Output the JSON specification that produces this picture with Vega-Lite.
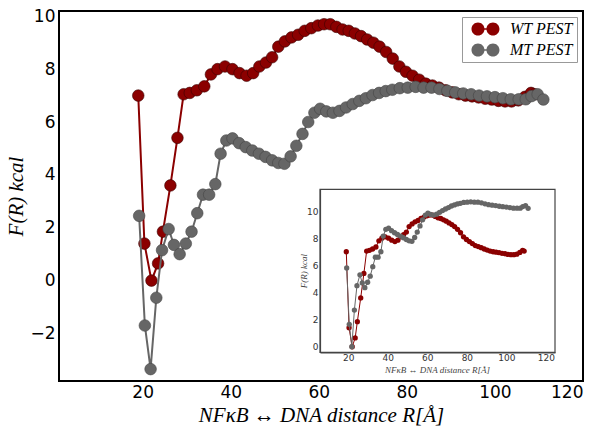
{
  "$schema": "https://vega.github.io/schema/vega-lite/v6.json",
  "width": 524,
  "height": 370,
  "autosize": {"type": "none"},
  "padding": {"left": 59, "top": 11, "right": 21, "bottom": 54},
  "background": "white",
  "config": {
    "view": {"stroke": "black", "strokeWidth": 2},
    "axis": {"grid": false, "ticks": false, "domain": false, "labelFont": "DejaVu Sans", "labelColor": "black", "titleFont": "Liberation Serif", "titleFontStyle": "italic", "titleFontWeight": "normal", "titleColor": "black"}
  },
  "datasets": {
    "wt": [
      {"R": 19.0, "F": 7.0}, {"R": 20.4, "F": 1.4}, {"R": 22.0, "F": 0.0}, {"R": 23.5, "F": 0.65}, {"R": 24.6, "F": 1.85},
      {"R": 26.3, "F": 3.6}, {"R": 27.9, "F": 5.4}, {"R": 29.3, "F": 7.05}, {"R": 30.7, "F": 7.1}, {"R": 32.3, "F": 7.2},
      {"R": 34.0, "F": 7.35}, {"R": 35.5, "F": 7.8}, {"R": 37.0, "F": 8.0}, {"R": 38.7, "F": 8.1}, {"R": 40.4, "F": 8.0},
      {"R": 42.0, "F": 7.85}, {"R": 43.6, "F": 7.75}, {"R": 45.1, "F": 7.85}, {"R": 46.5, "F": 8.1}, {"R": 48.0, "F": 8.25},
      {"R": 49.4, "F": 8.45}, {"R": 50.8, "F": 8.85}, {"R": 52.3, "F": 9.05}, {"R": 53.8, "F": 9.2}, {"R": 55.3, "F": 9.3},
      {"R": 56.8, "F": 9.45}, {"R": 58.3, "F": 9.55}, {"R": 59.8, "F": 9.65}, {"R": 61.2, "F": 9.7}, {"R": 62.6, "F": 9.7},
      {"R": 64.0, "F": 9.6}, {"R": 65.4, "F": 9.5}, {"R": 66.8, "F": 9.45}, {"R": 68.2, "F": 9.35}, {"R": 69.6, "F": 9.25},
      {"R": 71.0, "F": 9.12}, {"R": 72.4, "F": 9.0}, {"R": 73.8, "F": 8.85}, {"R": 75.3, "F": 8.65}, {"R": 76.8, "F": 8.4},
      {"R": 78.3, "F": 8.1}, {"R": 79.8, "F": 7.9}, {"R": 81.3, "F": 7.75}, {"R": 82.8, "F": 7.6}, {"R": 84.3, "F": 7.45},
      {"R": 85.8, "F": 7.38}, {"R": 87.3, "F": 7.3}, {"R": 88.8, "F": 7.2}, {"R": 90.3, "F": 7.12}, {"R": 91.8, "F": 7.05},
      {"R": 93.3, "F": 7.0}, {"R": 94.8, "F": 6.97}, {"R": 96.3, "F": 6.93}, {"R": 97.8, "F": 6.88}, {"R": 99.3, "F": 6.85},
      {"R": 100.8, "F": 6.8}, {"R": 102.3, "F": 6.78}, {"R": 103.8, "F": 6.78}, {"R": 105.3, "F": 6.82}, {"R": 106.8, "F": 6.95},
      {"R": 108.2, "F": 7.1}, {"R": 109.0, "F": 7.05}
    ],
    "mt": [
      {"R": 19.2, "F": 2.45}, {"R": 20.5, "F": -1.7}, {"R": 21.8, "F": -3.35}, {"R": 23.1, "F": -0.65}, {"R": 24.4, "F": 1.15},
      {"R": 25.9, "F": 1.95}, {"R": 27.1, "F": 1.35}, {"R": 28.4, "F": 1.0}, {"R": 29.8, "F": 1.4}, {"R": 31.1, "F": 1.85},
      {"R": 32.4, "F": 2.55}, {"R": 33.7, "F": 3.25}, {"R": 35.1, "F": 3.25}, {"R": 36.5, "F": 3.65}, {"R": 37.7, "F": 4.8},
      {"R": 39.0, "F": 5.3}, {"R": 40.4, "F": 5.38}, {"R": 41.9, "F": 5.2}, {"R": 43.4, "F": 5.05}, {"R": 44.9, "F": 4.92},
      {"R": 46.4, "F": 4.8}, {"R": 47.9, "F": 4.68}, {"R": 49.4, "F": 4.55}, {"R": 50.8, "F": 4.45}, {"R": 52.2, "F": 4.42},
      {"R": 53.6, "F": 4.7}, {"R": 54.9, "F": 5.1}, {"R": 56.3, "F": 5.55}, {"R": 57.6, "F": 6.0}, {"R": 59.0, "F": 6.35},
      {"R": 60.3, "F": 6.5}, {"R": 61.7, "F": 6.4}, {"R": 63.2, "F": 6.35}, {"R": 64.7, "F": 6.42}, {"R": 66.2, "F": 6.55},
      {"R": 67.7, "F": 6.68}, {"R": 69.2, "F": 6.8}, {"R": 70.7, "F": 6.9}, {"R": 72.2, "F": 7.02}, {"R": 73.7, "F": 7.1},
      {"R": 75.2, "F": 7.17}, {"R": 76.7, "F": 7.22}, {"R": 78.4, "F": 7.28}, {"R": 80.2, "F": 7.3}, {"R": 82.0, "F": 7.33},
      {"R": 83.8, "F": 7.3}, {"R": 85.6, "F": 7.3}, {"R": 87.4, "F": 7.25}, {"R": 89.2, "F": 7.18}, {"R": 91.0, "F": 7.12},
      {"R": 92.8, "F": 7.08}, {"R": 94.6, "F": 7.05}, {"R": 96.4, "F": 7.0}, {"R": 98.2, "F": 6.97}, {"R": 100.0, "F": 6.94},
      {"R": 101.8, "F": 6.9}, {"R": 103.6, "F": 6.86}, {"R": 105.4, "F": 6.86}, {"R": 107.0, "F": 6.86}, {"R": 108.3, "F": 6.98},
      {"R": 109.7, "F": 7.05}, {"R": 111.0, "F": 6.85}
    ],
    "mtInset": [
      {"R": 19.2, "F": 5.8}, {"R": 20.5, "F": 1.65}, {"R": 21.8, "F": 0.0}, {"R": 23.1, "F": 2.7}, {"R": 24.4, "F": 4.5},
      {"R": 25.9, "F": 5.3}, {"R": 27.1, "F": 4.7}, {"R": 28.4, "F": 4.35}, {"R": 29.8, "F": 4.75}, {"R": 31.1, "F": 5.2},
      {"R": 32.4, "F": 5.9}, {"R": 33.7, "F": 6.6}, {"R": 35.1, "F": 6.6}, {"R": 36.5, "F": 7.0}, {"R": 37.7, "F": 8.15},
      {"R": 39.0, "F": 8.65}, {"R": 40.4, "F": 8.73}, {"R": 41.9, "F": 8.55}, {"R": 43.4, "F": 8.4}, {"R": 44.9, "F": 8.27},
      {"R": 46.4, "F": 8.15}, {"R": 47.9, "F": 8.03}, {"R": 49.4, "F": 7.9}, {"R": 50.8, "F": 7.8}, {"R": 52.2, "F": 7.77},
      {"R": 53.6, "F": 8.05}, {"R": 54.9, "F": 8.45}, {"R": 56.3, "F": 8.9}, {"R": 57.6, "F": 9.35}, {"R": 59.0, "F": 9.7},
      {"R": 60.3, "F": 9.85}, {"R": 61.7, "F": 9.75}, {"R": 63.2, "F": 9.7}, {"R": 64.7, "F": 9.77}, {"R": 66.2, "F": 9.9},
      {"R": 67.7, "F": 10.03}, {"R": 69.2, "F": 10.15}, {"R": 70.7, "F": 10.25}, {"R": 72.2, "F": 10.37}, {"R": 73.7, "F": 10.45},
      {"R": 75.2, "F": 10.52}, {"R": 76.7, "F": 10.57}, {"R": 78.4, "F": 10.63}, {"R": 80.2, "F": 10.65}, {"R": 82.0, "F": 10.68},
      {"R": 83.8, "F": 10.65}, {"R": 85.6, "F": 10.65}, {"R": 87.4, "F": 10.6}, {"R": 89.2, "F": 10.53}, {"R": 91.0, "F": 10.47},
      {"R": 92.8, "F": 10.43}, {"R": 94.6, "F": 10.4}, {"R": 96.4, "F": 10.35}, {"R": 98.2, "F": 10.32}, {"R": 100.0, "F": 10.29},
      {"R": 101.8, "F": 10.25}, {"R": 103.6, "F": 10.21}, {"R": 105.4, "F": 10.21}, {"R": 107.0, "F": 10.21}, {"R": 108.3, "F": 10.33},
      {"R": 109.7, "F": 10.4}, {"R": 111.0, "F": 10.2}
    ]
  },
  "layer": [
    {
      "encoding": {
        "x": {"field": "R", "type": "quantitative", "scale": {"domain": [1, 120], "nice": false, "zero": false},
              "axis": {"orient": "bottom", "values": [20, 40, 60, 80, 100, 120], "labelFontSize": 17, "labelPadding": 3,
                       "title": "NFκB  ↔  DNA distance R[Å]", "titleFontSize": 21, "titleX": 262, "titleY": 34, "titleBaseline": "middle", "titleAlign": "center"}},
        "y": {"field": "F", "type": "quantitative", "scale": {"domain": [-3.8, 10.2], "nice": false, "zero": false},
              "axis": {"orient": "left", "values": [-2, 0, 2, 4, 6, 8, 10], "labelFontSize": 17, "labelPadding": 4,
                       "title": "F(R) kcal", "titleFontSize": 21, "titleX": -43, "titleY": 185, "titleBaseline": "middle", "titleAlign": "center"}}
      },
      "layer": [
        {"data": {"name": "wt"}, "mark": {"type": "line", "strokeWidth": 2},
         "encoding": {"color": {"datum": "WT PEST", "type": "nominal",
           "scale": {"domain": ["WT PEST", "MT PEST"], "range": ["#8b0000", "#666666"]},
           "legend": {"orient": "none", "legendX": 403, "legendY": 6, "title": null, "padding": 4, "rowPadding": 5,
                      "labelFont": "Liberation Serif", "labelFontStyle": "italic", "labelFontSize": 16, "labelColor": "black",
                      "symbolType": "M-0.36,0A0.93,0.93,0,1,0,1.5,0A0.93,0.93,0,1,0,-0.36,0ZM1.78,0A0.93,0.93,0,1,0,3.64,0A0.93,0.93,0,1,0,1.78,0ZM0.57,-0.12V0.12H2.71V-0.12Z",
                      "symbolSize": 196, "symbolStrokeWidth": 0, "labelOffset": 28,
                      "strokeColor": "#999999", "fillColor": "white"}}}},
        {"data": {"name": "wt"}, "mark": {"type": "point", "filled": true, "size": 135, "opacity": 1, "stroke": "#3a0000", "strokeWidth": 0.6},
         "encoding": {"color": {"datum": "WT PEST", "type": "nominal"}}},
        {"data": {"name": "mt"}, "mark": {"type": "line", "strokeWidth": 2},
         "encoding": {"color": {"datum": "MT PEST", "type": "nominal"}}},
        {"data": {"name": "mt"}, "mark": {"type": "point", "filled": true, "size": 135, "opacity": 1, "stroke": "#444444", "strokeWidth": 0.6},
         "encoding": {"color": {"datum": "MT PEST", "type": "nominal"}}}
      ]
    },
    {
      "encoding": {
        "x": {"field": "R", "type": "quantitative", "scale": {"domain": [5.7, 124.6], "range": [261, 496], "nice": false, "zero": false},
              "axis": {"orient": "bottom", "offset": -28.7, "domain": true, "domainColor": "#444444", "domainWidth": 1.2, "values": [20, 40, 60, 80, 100, 120], "labelFontSize": 9, "labelColor": "#333333", "labelPadding": 1,
                       "title": "NFκB ↔ DNA distance R[Å]", "titleFontSize": 9, "titleColor": "#444444", "titleX": 378, "titleY": 17, "titleBaseline": "middle", "titleAlign": "center"}},
        "y": {"field": "F", "type": "quantitative", "scale": {"domain": [-0.41, 11.6], "range": [341.3, 178.3], "nice": false, "zero": false},
              "axis": {"orient": "left", "offset": -261, "domain": true, "domainColor": "#444444", "domainWidth": 1.2, "values": [0, 2, 4, 6, 8, 10], "labelFontSize": 9, "labelColor": "#333333", "labelPadding": 2,
                       "title": "F(R) kcal", "titleFontSize": 9, "titleColor": "#444444", "titleX": -17, "titleY": 259.6, "titleBaseline": "middle", "titleAlign": "center"}}
      },
      "layer": [
        {"data": {"name": "wt"}, "mark": {"type": "line", "strokeWidth": 1},
         "encoding": {"color": {"datum": "WT PEST", "type": "nominal"}}},
        {"data": {"name": "wt"}, "mark": {"type": "point", "filled": true, "size": 28, "opacity": 1},
         "encoding": {"color": {"datum": "WT PEST", "type": "nominal"}}},
        {"data": {"name": "mtInset"}, "mark": {"type": "line", "strokeWidth": 1},
         "encoding": {"color": {"datum": "MT PEST", "type": "nominal"}}},
        {"data": {"name": "mtInset"}, "mark": {"type": "point", "filled": true, "size": 28, "opacity": 1},
         "encoding": {"color": {"datum": "MT PEST", "type": "nominal"}}}
      ]
    },
    {
      "data": {"values": [{}]},
      "mark": {"type": "rect", "filled": false, "stroke": "#444444", "strokeWidth": 1.2},
      "encoding": {
        "x": {"datum": 0, "type": "quantitative", "scale": {"domain": [0, 1], "range": [261, 496]}, "axis": null},
        "x2": {"datum": 1},
        "y": {"datum": 0, "type": "quantitative", "scale": {"domain": [0, 1], "range": [341.3, 178.3]}, "axis": null},
        "y2": {"datum": 1}
      }
    }
  ],
  "resolve": {"scale": {"x": "independent", "y": "independent"}}
}
